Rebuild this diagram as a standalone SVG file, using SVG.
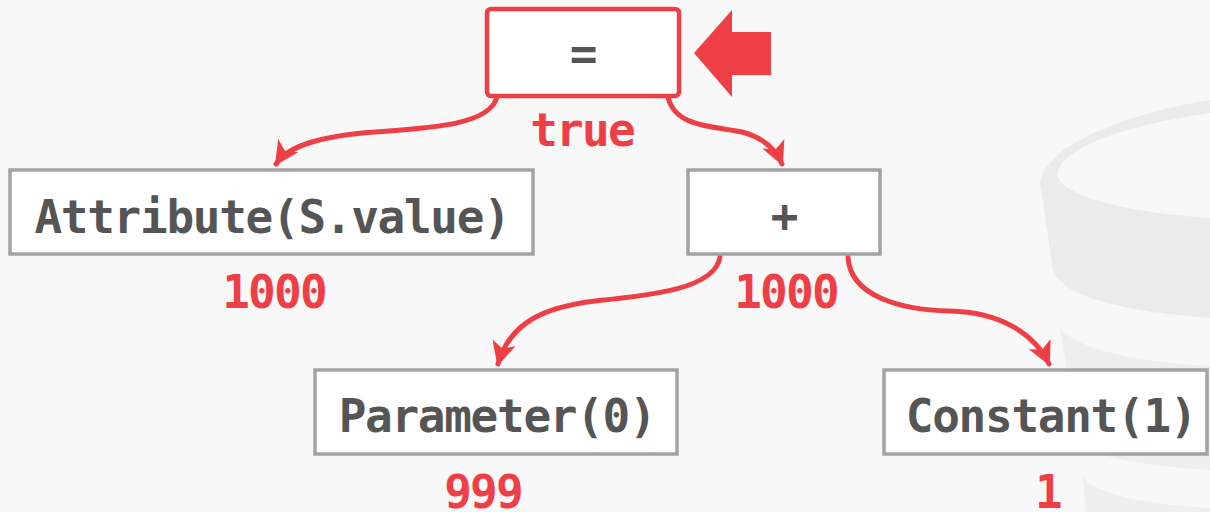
<svg xmlns="http://www.w3.org/2000/svg" width="1210" height="512" viewBox="0 0 1210 512">
<style>
.box{fill:#ffffff;stroke:#a3a3a3;stroke-width:3.5}
.active{fill:#ffffff;stroke:#ef3f46;stroke-width:4.5}
.t{font-family:"DejaVu Sans Mono","Liberation Mono",monospace;font-size:46px;letter-spacing:-1.3px;fill:#555555;text-anchor:middle;font-weight:bold}
.v{font-family:"DejaVu Sans Mono","Liberation Mono",monospace;font-size:46px;letter-spacing:-1.8px;fill:#ef3f46;text-anchor:middle;font-weight:bold}
.edge{fill:none;stroke:#ef3f46;stroke-width:5;stroke-linecap:round;marker-end:url(#ah)}
</style>
<defs>
<marker id="ah" markerUnits="userSpaceOnUse" markerWidth="30" markerHeight="30" viewBox="0 0 30 30" refX="22" refY="15" orient="auto">
<path d="M0,3 L24,15 L0,27 L6,15 Z" fill="#ef3f46"/>
</marker>
</defs>
<rect width="1210" height="512" fill="#f8f8f8"/>
<g id="watermark" fill="#ebebeb">
<path d="M1040,182 C1048,145 1120,115 1210,100 L1210,113 C1130,125 1062,145 1057,175 C1062,195 1120,212 1210,218 L1210,318 C1130,312 1062,298 1053,270 Z"/>
<path d="M1060,327 C1075,350 1140,362 1210,366 L1210,470 C1140,466 1085,455 1078,440 Z" fill="#efefef"/>
<path d="M1083,477 C1095,495 1150,505 1210,508 L1210,512 L1086,512 Z" fill="#efefef"/>
</g>
<g id="connectors">
<path class="edge" d="M497,97 C490,125 430,128 375,132 C320,136 288,146 276,164"/>
<path class="edge" d="M668,97 C675,128 715,126 742,132 C765,138 776,150 782,164"/>
<path class="edge" d="M720,257 C715,290 645,296 595,301 C545,307 510,322 498,364"/>
<path class="edge" d="M848,257 C850,296 900,310 950,311 C1000,312 1035,334 1049,364"/>
</g>
<g id="pointer">
<path d="M694,53 L732,10 L732,32 L771,32 L771,75 L732,75 L732,97 Z" fill="#ef3f46"/>
</g>
<g id="node-eq">
<rect class="active" x="487" y="9" width="192" height="87" rx="4"/>
<text class="t" x="583" y="70">=</text>
<text class="v" x="582" y="146">true</text>
</g>
<g id="node-attr">
<rect class="box" x="10" y="170" width="523" height="84"/>
<text class="t" x="272" y="233">Attribute(S.value)</text>
<text class="v" x="274" y="308">1000</text>
</g>
<g id="node-plus">
<rect class="box" x="688" y="170" width="192" height="84"/>
<text class="t" x="784" y="232">+</text>
<text class="v" x="786" y="308">1000</text>
</g>
<g id="node-param">
<rect class="box" x="315" y="370" width="362" height="84"/>
<text class="t" x="497" y="432">Parameter(0)</text>
<text class="v" x="483" y="508">999</text>
</g>
<g id="node-const">
<rect class="box" x="884" y="370" width="323" height="84"/>
<text class="t" x="1051" y="432">Constant(1)</text>
<text class="v" x="1048" y="508">1</text>
</g>
</svg>
